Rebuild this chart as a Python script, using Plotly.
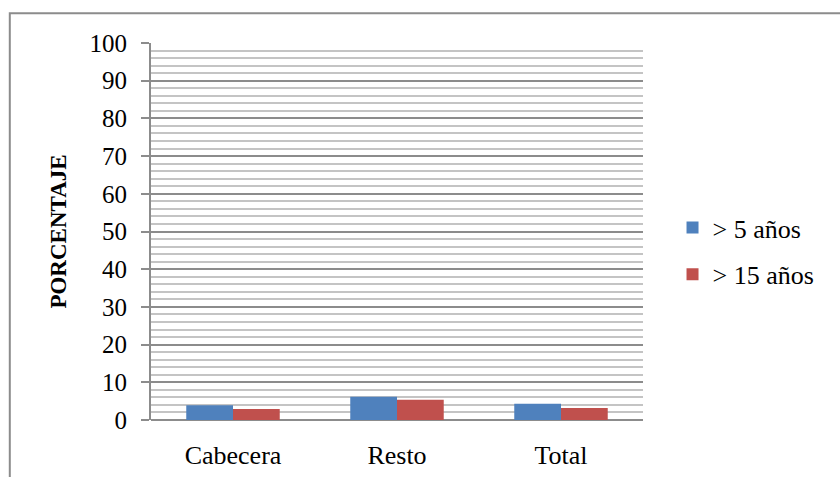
import plotly.graph_objects as go

categories = ["Cabecera", "Resto", "Total"]
over_5 = [3.9, 6.2, 4.3]
over_15 = [2.9, 5.4, 3.2]
series_names = ["> 5 años", "> 15 años"]
y_ticks = list(range(0, 101, 10))

FONT = "Liberation Serif"

fig = go.Figure()
fig.add_bar(x=categories, y=over_5, name=series_names[0], legendgroup="a",
            marker=dict(color="#4F81BD", line=dict(width=0)))
fig.add_bar(x=categories, y=over_15, name=series_names[1], legendgroup="b",
            marker=dict(color="#C0504D", line=dict(width=0)))

fig.update_layout(
    width=840, height=477,
    margin=dict(l=151, r=197, t=43, b=57),
    paper_bgcolor="white", plot_bgcolor="white",
    barmode="group", bargap=0.43, bargroupgap=0,
    font=dict(family=FONT, size=26, color="black"),
    showlegend=True,
    legend=dict(x=1.06, y=0.448, xanchor="left", yanchor="middle",
                font=dict(family=FONT, size=26), traceorder="grouped",
                tracegroupgap=10, itemsizing="constant"),
    shapes=[dict(type="rect", xref="paper", yref="paper",
                 x0=-0.287, y0=-0.2, x1=1.5, y1=1.079,
                 line=dict(color="#8c8c8c", width=2), layer="below")],
)

fig.update_xaxes(
    showline=False, showgrid=False, ticks="", tickfont=dict(size=26),
    ticklabelstandoff=17, automargin=False,
)
fig.update_yaxes(
    range=[0, 100], tickvals=y_ticks, ticktext=[str(v) for v in y_ticks],
    showgrid=True, gridcolor="#8c8c8c", gridwidth=2,
    minor=dict(dtick=2, tick0=0, showgrid=True, gridcolor="#c4c4c4", gridwidth=1.5),
    showline=True, linecolor="#8c8c8c", linewidth=2,
    ticks="outside", ticklen=8, tickcolor="#8c8c8c", tickwidth=2,
    ticklabelstandoff=9,
    tickfont=dict(size=25), zeroline=True, zerolinecolor="#8c8c8c", zerolinewidth=2,
    title=dict(text="<b>PORCENTAJE</b>", font=dict(size=23), standoff=16),
)

fig.write_html("out.html")
